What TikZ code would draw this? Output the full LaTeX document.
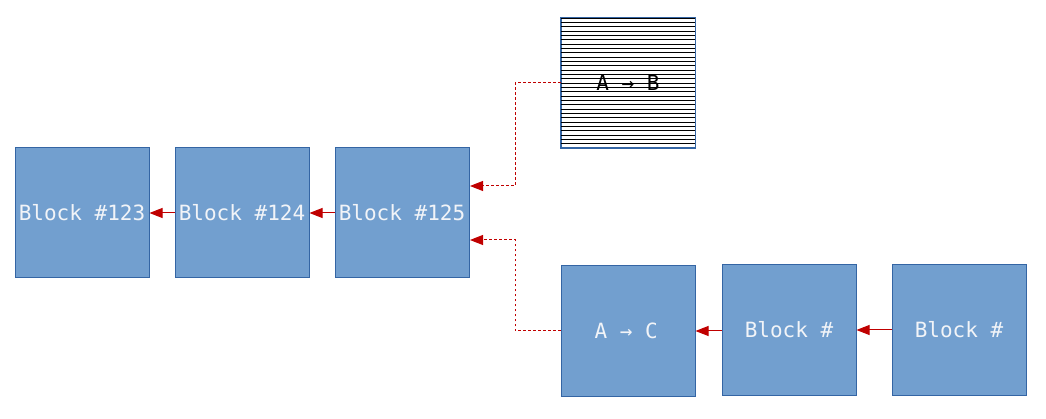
\documentclass[tikz,border=0pt]{standalone}
\usepackage{fontspec}
\newfontfamily\blockfont{DejaVu Sans Mono}
\usetikzlibrary{arrows.meta}
\definecolor{blockfill}{HTML}{729FCF}
\definecolor{blockedge}{HTML}{3465A4}
\definecolor{blocktext}{HTML}{F2F4F8}
\definecolor{linkred}{HTML}{C00000}
\begin{document}
\begin{tikzpicture}[x=1pt,y=-1pt,
  block/.style={draw=blockedge, fill=blockfill, line width=1pt,
    minimum width=134pt, minimum height=130pt, inner sep=0pt,
    text=blocktext, font=\blockfont\fontsize{21}{25}\selectfont},
  hatchbox/.style={draw=blockedge, fill=white, line width=1pt,
    minimum width=134pt, minimum height=130pt, inner sep=0pt},
  link/.style={draw=linkred, line width=1pt, -{Triangle[length=13pt,width=10pt]}},
  dotlink/.style={link, dash pattern=on 2.5pt off 2.5pt}]
\useasboundingbox (0,0) rectangle (1046,419);

% main chain
\node[block] (b123) at (82,213) {Block \#123};
\node[block] (b124) at (242,213) {Block \#124};
\node[block] (b125) at (402,213) {Block \#125};

% hatched pending block
\node[hatchbox] (ab) at (628,83) {};
\foreach \k in {0,...,30}
  \draw[black, line width=0.9pt] (561,18+\k*4.333) -- (695,18+\k*4.333);
\draw[blockedge, line width=1pt] (ab.north west) rectangle (ab.south east);
\node[font=\blockfont\fontsize{21}{25}\selectfont, text=black] (abt) at (ab.center) {A → B};

% side chain
\node[block] (ac) at (628,331) {A → C\,};
\node[block] (bx1) at (789,330) {Block \#};
\node[block] (bx2) at (959,330) {Block \#};

% connectors
\draw[link] (b124.west) -- (b123.east);
\draw[link] (b125.west) -- (b124.east);
\draw[link] (bx1.west |- ac.east) -- (ac.east);
\draw[link] (bx2.west) -- (bx1.east);
\coordinate (ka) at (515,83);
\coordinate (kc) at (515,331);
\draw[dotlink] (ab.west) -- (ka) -- (515,186) -- (470,186);
\draw[dotlink] (ac.west) -- (kc) -- (515,240) -- (470,240);
\end{tikzpicture}
\end{document}
